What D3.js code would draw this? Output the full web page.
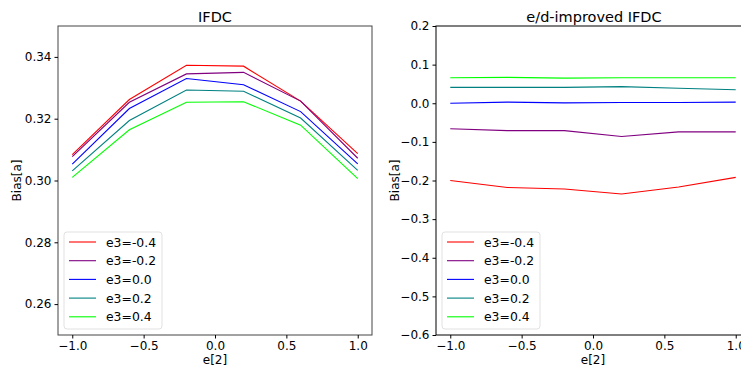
<!DOCTYPE html>
<html>
<head>
<meta charset="utf-8">
<script src="https://cdn.jsdelivr.net/npm/d3@7"></script>
<style>
  body { margin: 0; background: #fff; }
  text { font-family: "DejaVu Sans", sans-serif; }
</style>
</head>
<body>
<script>
var width = 741, height = 366;

// data
var xs = [-1.0, -0.6, -0.2, 0.2, 0.6, 1.0];
var seriesNames = ["e3=-0.4", "e3=-0.2", "e3=0.0", "e3=0.2", "e3=0.4"];
var seriesColors = ["#ff0000", "#800080", "#0000ff", "#008080", "#00ff00"];
var ifdc = [
  [0.3084, 0.3262, 0.3373, 0.3370, 0.3257, 0.3087],
  [0.3077, 0.3253, 0.3345, 0.3350, 0.3257, 0.3072],
  [0.3053, 0.3233, 0.3330, 0.3310, 0.3223, 0.3054],
  [0.3031, 0.3194, 0.3293, 0.3289, 0.3202, 0.3033],
  [0.3010, 0.3164, 0.3253, 0.3255, 0.3179, 0.3006]
];
var improved = [
  [-0.200, -0.218, -0.222, -0.235, -0.217, -0.192],
  [-0.066, -0.071, -0.071, -0.086, -0.074, -0.074],
  [0.000, 0.003, 0.001, 0.002, 0.002, 0.003],
  [0.041, 0.041, 0.041, 0.043, 0.039, 0.035],
  [0.066, 0.067, 0.065, 0.066, 0.066, 0.066]
];
var xTicks = [-1.0, -0.5, 0.0, 0.5, 1.0];
var leftYTicks = [0.26, 0.28, 0.30, 0.32, 0.34];
var rightYTicks = [0.2, 0.1, 0.0, -0.1, -0.2, -0.3, -0.4, -0.5, -0.6];

var svg = d3.select("body").append("svg")
    .attr("width", width)
    .attr("height", height);

var minus = function(s) { return s.replace("-", "\u2212"); };

function panel(opts) {
  var x = d3.scaleLinear().domain([-1.1, 1.1]).range([opts.left, opts.right]);
  var y = d3.scaleLinear().domain(opts.yDomain).range([opts.bottom, opts.top]);

  var g = svg.append("g");

  var clip = "clip" + opts.id;
  g.append("clipPath").attr("id", clip)
    .append("rect")
    .attr("x", opts.left).attr("y", opts.top)
    .attr("width", opts.right - opts.left).attr("height", opts.bottom - opts.top);

  var line = d3.line().x(function(d, i) { return x(xs[i]); }).y(function(d) { return y(d); });

  g.append("g").attr("clip-path", "url(#" + clip + ")")
    .selectAll("path").data(opts.data).enter().append("path")
    .attr("d", line)
    .attr("fill", "none")
    .attr("stroke", function(d, i) { return seriesColors[i]; })
    .attr("stroke-width", 1.1);

  // frame
  g.append("rect")
    .attr("x", opts.left).attr("y", opts.top)
    .attr("width", opts.right - opts.left).attr("height", opts.bottom - opts.top)
    .attr("fill", "none").attr("stroke", opts.frame).attr("stroke-width", 1);

  var xAxis = g.append("g")
    .attr("transform", "translate(0," + opts.bottom + ")")
    .call(d3.axisBottom(x).tickValues(xTicks).tickSize(3.5).tickPadding(3)
      .tickFormat(function(d) { return minus(d3.format(".1f")(d)); }));
  xAxis.select(".domain").remove();
  xAxis.selectAll("text").attr("font-size", 12).attr("fill", "#000").attr("font-family", "DejaVu Sans");
  xAxis.selectAll("line").attr("stroke", "#000");

  var yAxis = g.append("g")
    .attr("transform", "translate(" + opts.left + ",0)")
    .call(d3.axisLeft(y).tickValues(opts.yTicks).tickSize(3.5).tickPadding(3)
      .tickFormat(function(d) { return minus(d3.format(opts.yFmt)(d)); }));
  yAxis.select(".domain").remove();
  yAxis.selectAll("text").attr("font-size", 12).attr("fill", "#000").attr("font-family", "DejaVu Sans");
  yAxis.selectAll("line").attr("stroke", "#000");

  g.append("text")
    .attr("x", opts.titleX).attr("y", 22)
    .attr("text-anchor", "middle").attr("font-size", 14.5)
    .text(opts.title);

  g.append("text")
    .attr("x", (x(-1.1) + x(1.1)) / 2 > 700 ? 593 : (x(-1.1) + x(1.1)) / 2).attr("y", 364)
    .attr("text-anchor", "middle").attr("font-size", 12)
    .text("e[2]");

  g.append("text")
    .attr("transform", "translate(" + opts.yLabelX + "," + (opts.top + opts.bottom) / 2 + ") rotate(-90)")
    .attr("text-anchor", "middle").attr("font-size", 12)
    .text("Bias[a]");

  // legend
  var lg = g.append("g").attr("transform", "translate(" + (opts.left + 6) + "," + (opts.bottom - 103) + ")");
  lg.append("rect")
    .attr("width", 98).attr("height", 97).attr("rx", 3)
    .attr("fill", "#fff").attr("fill-opacity", 0.8)
    .attr("stroke", "#d9d9d9").attr("stroke-width", 0.8);
  var items = lg.selectAll("g.item").data(seriesNames).enter().append("g")
    .attr("transform", function(d, i) { return "translate(0," + (10 + i * 18.7) + ")"; });
  items.append("line")
    .attr("x1", 5).attr("x2", 32)
    .attr("stroke", function(d, i) { return seriesColors[i]; })
    .attr("stroke-width", 1.1);
  items.append("text")
    .attr("x", 42).attr("y", 4.5).attr("font-size", 12.4)
    .text(function(d) { return d; });
}

panel({
  id: "a", left: 58, right: 372, top: 26, bottom: 335,
  yDomain: [0.25, 0.35], yTicks: leftYTicks, yFmt: ".2f",
  data: ifdc, title: "IFDC", titleX: 215, yLabelX: 21, frame: "#444"
});

panel({
  id: "b", left: 436, right: 750, top: 26, bottom: 335,
  yDomain: [-0.6, 0.2], yTicks: rightYTicks, yFmt: ".1f",
  data: improved, title: "e/d-improved IFDC", titleX: 594, yLabelX: 399, frame: "#000"
});
</script>
</body>
</html>
